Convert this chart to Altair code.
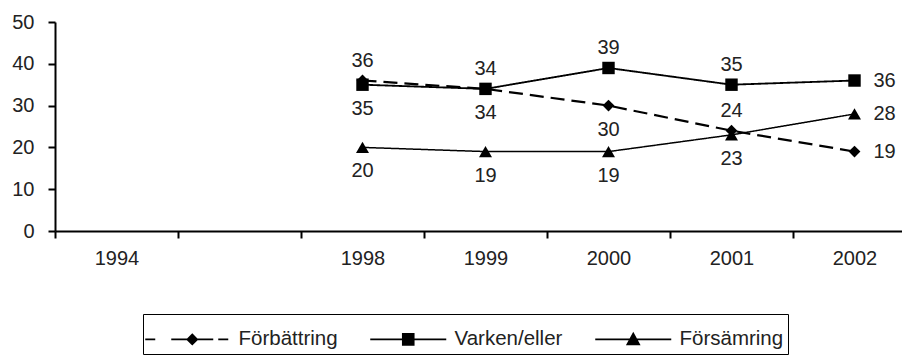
import altair as alt
import pandas as pd

# ---- data ----
categories = ["1994", " ", "1998", "1999", "2000", "2001", "2002"]
years = ["1998", "1999", "2000", "2001", "2002"]
series_names = ["Förbättring", "Varken/eller", "Försämring"]
forbattring = [36, 34, 30, 24, 19]
varken_eller = [35, 34, 39, 35, 36]
forsamring = [20, 19, 19, 23, 28]
y_ticks = [0, 10, 20, 30, 40, 50]

# ---- label placement (style) ----
placement = {
    "Förbättring": ["above", "below", "below", "above", "right"],
    "Varken/eller": ["below", "above", "above", "above", "right"],
    "Försämring": ["below", "below", "below", "below", "right"],
}

rows = []
for name, vals in zip(series_names, [forbattring, varken_eller, forsamring]):
    for yr, v, p in zip(years, vals, placement[name]):
        rows.append({"year": yr, "series": name, "value": v, "place": p})
df = pd.DataFrame(rows)

FONT = "Liberation Sans"
TXT = "#222222"

xscale = alt.Scale(domain=categories, type="band", range=[0, 861],
                   paddingInner=0, paddingOuter=0)
yscale = alt.Scale(domain=[0, 50], nice=False)

xaxis = alt.Axis(title=None, labelAngle=0, tickBand="extent", grid=False,
                 domainColor="black", domainWidth=2, tickColor="black",
                 tickWidth=2, tickSize=7, labelFontSize=20, labelFont=FONT,
                 labelColor=TXT, labelPadding=10)
yaxis = alt.Axis(title=None, values=y_ticks, grid=False,
                 domainColor="black", domainWidth=2, tickColor="black",
                 tickWidth=2, tickSize=7, labelFontSize=20, labelFont=FONT,
                 labelColor=TXT, labelPadding=14)

base = alt.Chart(df).encode(
    x=alt.X("year:N", scale=xscale, axis=xaxis, bandPosition=0.5),
    y=alt.Y("value:Q", scale=yscale, axis=yaxis),
)

lines = base.mark_line(color="black").encode(
    detail="series:N",
    strokeDash=alt.StrokeDash("series:N", scale=alt.Scale(domain=series_names, range=[[14, 7], [1, 0], [1, 0]]), legend=None),
    strokeWidth=alt.StrokeWidth("series:N", scale=alt.Scale(domain=series_names, range=[2.2, 1.5, 1.5]), legend=None),
)

points = base.mark_point(filled=True, color="black", opacity=1).encode(
    shape=alt.Shape("series:N", scale=alt.Scale(domain=series_names, range=["diamond", "square", "triangle-up"]), legend=None),
    size=alt.Size("series:N", scale=alt.Scale(domain=series_names, range=[140, 169, 160]), legend=None),
)

text_style = dict(fontSize=20, font=FONT, color=TXT, baseline="middle")
above = base.transform_filter(alt.datum.place == "above").mark_text(dy=-20, align="center", **text_style).encode(text="value:Q")
below = base.transform_filter(alt.datum.place == "below").mark_text(dy=24, align="center", **text_style).encode(text="value:Q")
right = base.transform_filter(alt.datum.place == "right").mark_text(dx=19, align="left", **text_style).encode(text="value:Q")

# legend symbols: line (dashed for the first) with a solid marker in the middle,
# drawn in pixel units (symbolSize=4); markers are filled by nested outlines.
legend_paths = [
    "M-47,0L-37,0M-21,0L21,0M26,0L36,0"
    "M0,-5L5,0L0,5L-5,0ZM0,-3.7L3.7,0L0,3.7L-3.7,0ZM0,-2.4L2.4,0L0,2.4L-2.4,0Z"
    "M0,-1.1L1.1,0L0,1.1L-1.1,0Z",
    "M-38,0L38,0"
    "M-5.5,-5.5L5.5,-5.5L5.5,5.5L-5.5,5.5ZM-4.3,-4.3L4.3,-4.3L4.3,4.3L-4.3,4.3Z"
    "M-3.1,-3.1L3.1,-3.1L3.1,3.1L-3.1,3.1ZM-1.9,-1.9L1.9,-1.9L1.9,1.9L-1.9,1.9Z"
    "M-0.7,-0.7L0.7,-0.7L0.7,0.7L-0.7,0.7Z",
    "M-38,0L38,0"
    "M0,-6L6,5L-6,5ZM0,-4L4.5,3.9L-4.5,3.9ZM0,-2L3,2.8L-3,2.8ZM0,0L1.5,1.7L-1.5,1.7Z",
]
leg = alt.Legend(title=" ", titleFontSize=6, titlePadding=5, titleColor="white",
                 orient="none", legendX=88, legendY=292,
                 direction="horizontal", columns=3, symbolSize=4,
                 symbolOffset=35, labelOffset=36, labelFontSize=20.5,
                 labelFont=FONT, labelColor=TXT, strokeColor="black",
                 padding=4, columnPadding=25, symbolStrokeWidth=1.6)

legend_layer = alt.Chart(df).transform_filter("false").mark_point(
    filled=False, color="black", strokeWidth=1.6, opacity=1
).encode(
    x=alt.X("year:N", scale=xscale, axis=xaxis, bandPosition=0.5),
    y=alt.Y("value:Q", scale=yscale, axis=yaxis),
    shape=alt.Shape("series:N", scale=alt.Scale(domain=series_names, range=legend_paths), legend=leg),
)

chart = alt.layer(lines, points, above, below, right, legend_layer).resolve_scale(
    shape="independent"
).properties(
    width=847, height=209,
    autosize=alt.AutoSizeParams(type="none"),
    padding={"left": 47, "top": 14, "right": 0, "bottom": 125},
).configure_view(stroke=None)

chart.save("out.html", embed_options={"renderer": "svg", "actions": False})
